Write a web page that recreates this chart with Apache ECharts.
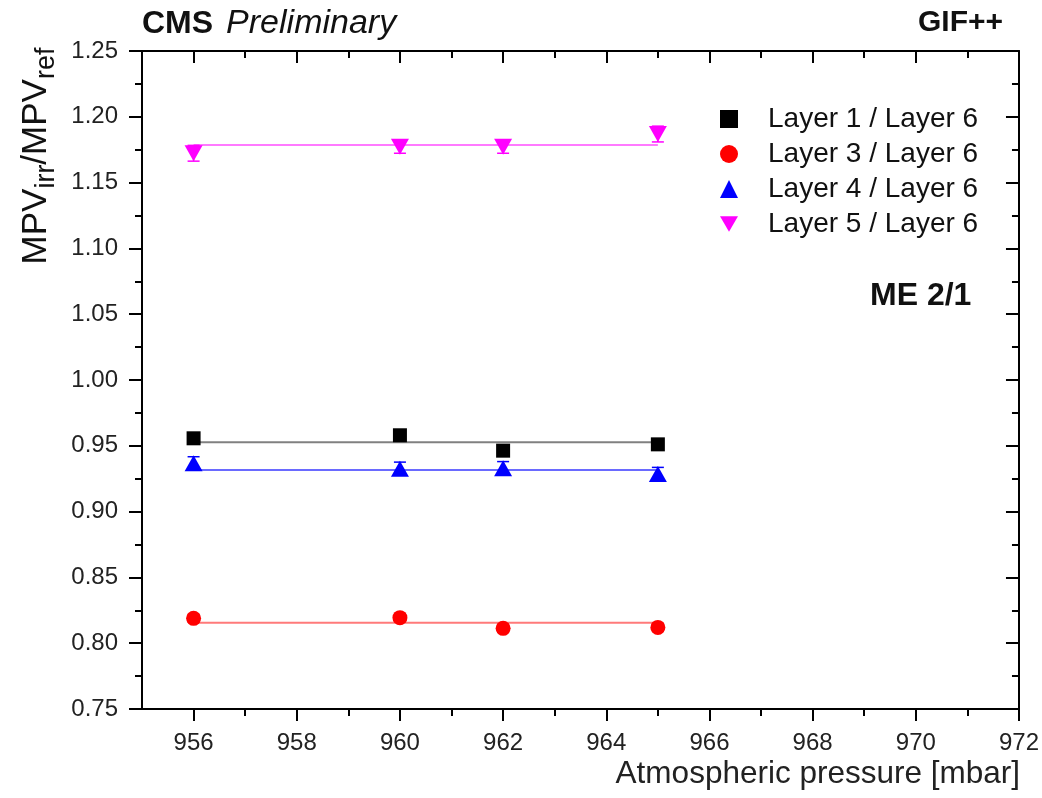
<!DOCTYPE html>
<html>
<head>
<meta charset="utf-8">
<script src="https://cdn.jsdelivr.net/npm/echarts@6/dist/echarts.min.js"></script>
<style>html,body{margin:0;padding:0;background:#fff}#c{width:1042px;height:798px}</style>
</head>
<body>
<div id="c"></div>
<script>
// ---- data ----
const pressure = [956, 960, 962, 965];
const layer1 = [0.9557, 0.9580, 0.9463, 0.9511];
const layer3 = [0.8189, 0.8194, 0.8113, 0.8120];
const layer4 = [0.9367, 0.9326, 0.9330, 0.9286];
const layer5 = [1.1723, 1.1773, 1.1773, 1.1869];
const err1 = [0.003, 0.003, 0.003, 0.003];
const err3 = [0.003, 0.003, 0.003, 0.003];
const err4 = [0.005, 0.005, 0.005, 0.005];
const err5 = [0.006, 0.005, 0.005, 0.006];
const fitRange = [956, 965];
const fit1 = 0.9527, fit3 = 0.8156, fit4 = 0.9316, fit5 = 1.1786;
const seriesNames = ['Layer 1 / Layer 6', 'Layer 3 / Layer 6', 'Layer 4 / Layer 6', 'Layer 5 / Layer 6'];
const xMajor = [956, 958, 960, 962, 964, 966, 968, 970, 972];
const xMinor = [957, 959, 961, 963, 965, 967, 969, 971];

const colors = ['#000000', '#ff0000', '#0000ff', '#ff00ff'];
const fitColors = ['#808080', '#ff7a7a', '#6a6aff', '#ff7aff'];
const downTri = 'path://M0,0L20,0L10,17.3Z';
const symbols = ['rect', 'circle', 'triangle', downTri];
const symSizes = [14, 15, [18, 16], [18, 16]];
const values = [layer1, layer3, layer4, layer5];
const errs = [err1, err3, err4, err5];
const fits = [fit1, fit3, fit4, fit5];

const F = 'Liberation Sans, Arial, sans-serif';

const series = [];
for (let i = 0; i < 4; i++) {
  series.push({
    name: 'fit' + i, type: 'line', xAxisIndex: 0, yAxisIndex: 0,
    data: fitRange.map(x => [x, fits[i]]), symbol: 'none', silent: true,
    lineStyle: { color: fitColors[i], width: 2 }, z: 2
  });
}
for (let i = 0; i < 4; i++) {
  const col = colors[i];
  series.push({
    name: 'err' + i, type: 'custom', xAxisIndex: 0, yAxisIndex: 0, z: 3,
    data: pressure.map((x, j) => [x, values[i][j], errs[i][j]]),
    renderItem: function (params, api) {
      const x = api.value(0), y = api.value(1), e = api.value(2);
      const t = api.coord([x, y + e]), b = api.coord([x, y - e]);
      const hw = 6;
      const st = { stroke: col, lineWidth: 1.5 };
      return { type: 'group', children: [
        { type: 'line', shape: { x1: t[0], y1: t[1], x2: b[0], y2: b[1] }, style: st },
        { type: 'line', shape: { x1: t[0] - hw, y1: t[1], x2: t[0] + hw, y2: t[1] }, style: st },
        { type: 'line', shape: { x1: b[0] - hw, y1: b[1], x2: b[0] + hw, y2: b[1] }, style: st }
      ]};
    }
  });
}
for (let i = 0; i < 4; i++) {
  series.push({
    name: seriesNames[i], type: 'scatter', xAxisIndex: 0, yAxisIndex: 0, z: 5,
    data: pressure.map((x, j) => [x, values[i][j]]),
    symbol: symbols[i], symbolSize: symSizes[i],
    itemStyle: { color: colors[i], opacity: 1 }
  });
}

const axisLine = { show: true, lineStyle: { color: '#000', width: 2 } };
const option = {
  animation: false,
  backgroundColor: '#fff',
  grid: { left: 142, top: 51, right: 22, bottom: 89, containLabel: false },
  xAxis: [
    { type: 'value', min: 955, max: 972, position: 'bottom', axisLine: axisLine,
      axisTick: { show: true, inside: false, length: 12, customValues: xMajor, lineStyle: { color: '#000', width: 2 } },
      axisLabel: { show: true, customValues: xMajor, margin: 22, fontSize: 24, fontFamily: F, color: '#222' },
      splitLine: { show: false } },
    { type: 'value', min: 955, max: 972, position: 'bottom', axisLine: { show: false },
      axisTick: { show: true, inside: false, length: 7, customValues: xMinor, lineStyle: { color: '#000', width: 2 } },
      axisLabel: { show: false }, splitLine: { show: false } },
    { type: 'value', min: 955, max: 972, position: 'top', axisLine: axisLine,
      axisTick: { show: true, inside: true, length: 12, customValues: xMajor, lineStyle: { color: '#000', width: 2 } },
      axisLabel: { show: false }, splitLine: { show: false } },
    { type: 'value', min: 955, max: 972, position: 'top', axisLine: { show: false },
      axisTick: { show: true, inside: true, length: 7, customValues: xMinor, lineStyle: { color: '#000', width: 2 } },
      axisLabel: { show: false }, splitLine: { show: false } }
  ],
  yAxis: [
    { type: 'value', min: 0.75, max: 1.25, interval: 0.05, position: 'left', axisLine: axisLine,
      axisTick: { show: true, inside: false, length: 13, lineStyle: { color: '#000', width: 2 } },
      minorTick: { show: true, splitNumber: 2, length: 7, lineStyle: { color: '#000', width: 2 } },
      axisLabel: { show: true, margin: 24, fontSize: 24, fontFamily: F, color: '#222', formatter: v => v.toFixed(2) },
      splitLine: { show: false } },
    { type: 'value', min: 0.75, max: 1.25, interval: 0.05, position: 'right', axisLine: axisLine,
      axisTick: { show: true, inside: true, length: 13, lineStyle: { color: '#000', width: 2 } },
      minorTick: { show: true, splitNumber: 2, length: 7, lineStyle: { color: '#000', width: 2 } },
      axisLabel: { show: false }, splitLine: { show: false } }
  ],
  legend: {
    orient: 'vertical', left: 715, top: 99, itemWidth: 18, itemHeight: 18, itemGap: 5,
    data: seriesNames.map((n, i) => ({ name: n, icon: symbols[i] })),
    textStyle: { fontSize: 28, lineHeight: 30, fontFamily: F, color: '#111', padding: [0, 0, 0, 25] },
    selectedMode: false
  },
  graphic: [
    { type: 'text', left: 142, top: 7, style: {
        text: '{b|CMS}{i|Preliminary}',
        rich: { b: { fontSize: 32, fontWeight: 'bold', fontFamily: F, fill: '#111', padding: [0, 13, 0, 0] },
                i: { fontSize: 34, fontStyle: 'italic', fontFamily: F, fill: '#111' } } } },
    { type: 'text', right: 39, top: 8, style: { text: 'GIF++', fontSize: 30, fontWeight: 'bold', fontFamily: F, fill: '#111' } },
    { type: 'text', left: 870, top: 280, style: { text: 'ME 2/1', fontSize: 32, fontWeight: 'bold', fontFamily: F, fill: '#111' } },
    { type: 'text', right: 22, top: 758, style: { text: 'Atmospheric pressure [mbar]', fontSize: 31.5, fontFamily: F, fill: '#222' } },
    { type: 'text', x: 36, y: 156, rotation: Math.PI / 2, style: {
        text: '{m|MPV}{s|irr}{m|/MPV}{s|ref}', align: 'center', verticalAlign: 'middle',
        rich: { m: { fontSize: 35, lineHeight: 35, verticalAlign: 'top', fontFamily: F, fill: '#111' },
                s: { fontSize: 27, lineHeight: 27, verticalAlign: 'top', padding: [15, 0, 0, 0], fontFamily: F, fill: '#111' } } } }
  ],
  series: series
};
const chart = echarts.init(document.getElementById('c'), null, { renderer: 'canvas' });
chart.setOption(option);
</script>
</body>
</html>
